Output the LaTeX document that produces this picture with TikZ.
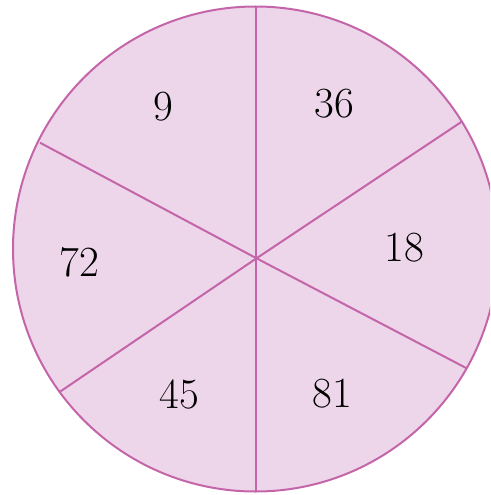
\documentclass[tikz,border=0pt]{standalone}
\usepackage{fontspec}
\definecolor{segfill}{HTML}{EDD5EA}
\definecolor{segline}{HTML}{C465A9}
\begin{document}
\begin{tikzpicture}[x=1pt,y=-1pt,
  lbl/.style={font=\fontsize{43}{43}\selectfont, inner sep=0pt},
  segln/.style={draw=segline, line width=2pt}]
\useasboundingbox (0,0) rectangle (490,495);
\begin{scope}
\clip (0,0) rectangle (490,495);
\node[circle, minimum size=485pt, inner sep=0pt, fill=segfill, draw=segline, line width=2pt] (c) at (255.5,249) {};
\coordinate (o) at (256.5,258.3);
\coordinate (t) at (255.6,6.5);
\coordinate (b) at (255.6,491.5);
\coordinate (ul) at (40,142.7);
\coordinate (ll) at (60,391.7);
\coordinate (ur) at (461.7,121.7);
\coordinate (lr) at (466.7,368.3);
\draw[segln] (t) -- (b);
\draw[segln] (ul) -- (o) -- (lr);
\draw[segln] (ll) -- (o) -- (ur);
\end{scope}
\node[lbl] (n9) at (163.5,106.5) {9};
\node[lbl] (n36) at (334,103.5) {36};
\node[lbl] (n18) at (404,248) {18};
\node[lbl] (n72) at (79,262.5) {72};
\node[lbl] (n45) at (179,394) {45};
\node[lbl] (n81) at (332,394) {81};
\end{tikzpicture}
\end{document}
